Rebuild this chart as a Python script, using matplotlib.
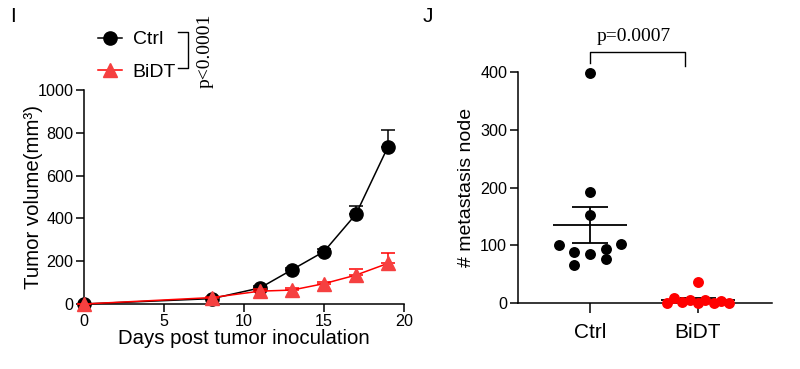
import matplotlib
matplotlib.use("Agg")
import matplotlib.pyplot as plt
import numpy as np
from matplotlib.lines import Line2D

plt.rcParams["font.family"] = ["Liberation Sans", "DejaVu Sans"]

# panel I: tumour growth
days = [0, 8, 11, 13, 15, 17, 19]
ctrl_vol = [0, 25, 75, 160, 245, 420, 735]
ctrl_err = [0, 5, 10, 10, 12, 40, 80]
bidt_vol = [0, 30, 60, 65, 95, 135, 190]
bidt_err = [0, 4, 8, 8, 10, 30, 47]

# panel J: metastasis nodes
groups = ["Ctrl", "BiDT"]
ctrl_nodes = [397, 192, 152, 100, 102, 89, 86, 94, 76, 67]
bidt_nodes = [1, 10, 2, 6, 37, 0, 5, 0, 4, 0]
ctrl_jitter = [0, 0, 0, -0.29, 0.29, -0.145, 0, 0.145, 0.145, -0.145]
bidt_jitter = [-0.29, -0.22, -0.145, -0.075, 0, 0, 0.07, 0.145, 0.215, 0.29]

RED = "#ff0000"
TRI = "#f54040"

fig = plt.figure(figsize=(8, 3.69), dpi=100)

# ---- panel I ----
ax1 = fig.add_axes([0.105, 0.1762, 0.4, 0.58])
ax1.errorbar(days, ctrl_vol, yerr=[np.zeros(len(ctrl_err)), ctrl_err],
             color="black", marker="o", markersize=9.5, lw=1.1,
             capsize=4.7, elinewidth=1.1, capthick=1.1, clip_on=False, zorder=3)
ax1.errorbar(days, bidt_vol, yerr=[np.zeros(len(bidt_err)), bidt_err],
             color=RED, marker="^", markersize=10, mfc=TRI, mec=TRI, lw=1.1,
             ecolor=RED, capsize=4.7, elinewidth=1.1, capthick=1.1,
             clip_on=False, zorder=4)
ax1.set_xlim(0, 20)
ax1.set_ylim(0, 1000)
ax1.set_xticks([0, 5, 10, 15, 20])
ax1.set_yticks([0, 200, 400, 600, 800, 1000])
ax1.set_xlabel("Days post tumor inoculation", fontsize=14.7, labelpad=0)
ax1.set_ylabel("Tumor volume(mm³)", fontsize=14.7, labelpad=-4)
for s in ["top", "right"]:
    ax1.spines[s].set_visible(False)
for s in ["left", "bottom"]:
    ax1.spines[s].set_linewidth(1.1)
ax1.tick_params(labelsize=11.6, width=1.1, length=6, direction="out", pad=1.5)

handles = [
    Line2D([], [], color="black", marker="o", markersize=9.5, lw=1.1),
    Line2D([], [], color=RED, marker="^", markersize=10, mfc=TRI, mec=TRI, lw=1.1),
]
fig.legend(handles, ["Ctrl", "BiDT"], loc="upper left",
           bbox_to_anchor=(90 / 800, 1 - 23 / 369), frameon=False,
           fontsize=14, handlelength=1.25, handletextpad=0.55,
           labelspacing=0.75, borderaxespad=0)

# bracket + p-value for panel I
bx0, bx1 = 178 / 800, 188 / 800
by0, by1 = 1 - 32 / 369, 1 - 68 / 369
fig.add_artist(Line2D([bx0, bx1, bx1, bx0], [by0, by0, by1, by1],
                      color="black", lw=1.0, transform=fig.transFigure))
fig.text(205 / 800, 1 - 51 / 369, "p<0.0001", rotation=90, ha="center",
         va="center", fontsize=14, family=["Liberation Serif", "DejaVu Serif"])

# ---- panel J ----
ax2 = fig.add_axes([0.647, 0.178, 0.3175, 0.6276])
mean_c = np.mean(ctrl_nodes)
sem_c = np.std(ctrl_nodes, ddof=1) / np.sqrt(len(ctrl_nodes))
mean_b = np.mean(bidt_nodes)
sem_b = np.std(bidt_nodes, ddof=1) / np.sqrt(len(bidt_nodes))
for xi, m, se in [(0, mean_c, sem_c), (1, mean_b, sem_b)]:
    ax2.hlines(m, xi - 0.34, xi + 0.34, color="black", lw=1.3, zorder=2)
    ax2.hlines([m - se, m + se], xi - 0.17, xi + 0.17, color="black", lw=1.3, zorder=2)
    ax2.vlines(xi, m - se, m + se, color="black", lw=1.3, zorder=2)

ax2.scatter(np.array(ctrl_jitter), ctrl_nodes, s=62, color="black",
            clip_on=False, zorder=3, linewidths=0)
ax2.scatter(1 + np.array(bidt_jitter), bidt_nodes, s=62, color=RED,
            clip_on=False, zorder=3, linewidths=0)

ax2.set_xlim(-0.669, 1.682)
ax2.set_ylim(0, 400)
ax2.set_yticks([0, 100, 200, 300, 400])
ax2.set_xticks([0, 1])
ax2.set_xticklabels(groups, fontsize=15)
ax2.set_ylabel("# metastasis node", fontsize=14, labelpad=4)
for s in ["top", "right"]:
    ax2.spines[s].set_visible(False)
for s in ["left", "bottom"]:
    ax2.spines[s].set_linewidth(1.1)
ax2.tick_params(axis="y", labelsize=11.6, width=1.1, length=6, pad=1.5)
ax2.tick_params(axis="x", width=1.1, length=7.5, pad=7)

# bracket + p-value for panel J
ax2.plot([0, 0, 0.88, 0.88], [415, 434.5, 434.5, 410], color="black",
         lw=1.0, clip_on=False)
ax2.text(0.41, 446, "p=0.0007", ha="center", va="bottom", fontsize=14,
         family=["Liberation Serif", "DejaVu Serif"], clip_on=False)

# panel letters
fig.text(10 / 800, 1 - 7 / 369, "I", fontsize=15, va="top", ha="left")
fig.text(423 / 800, 1 - 7 / 369, "J", fontsize=15, va="top", ha="left")

fig.savefig("out.png", dpi=100)
